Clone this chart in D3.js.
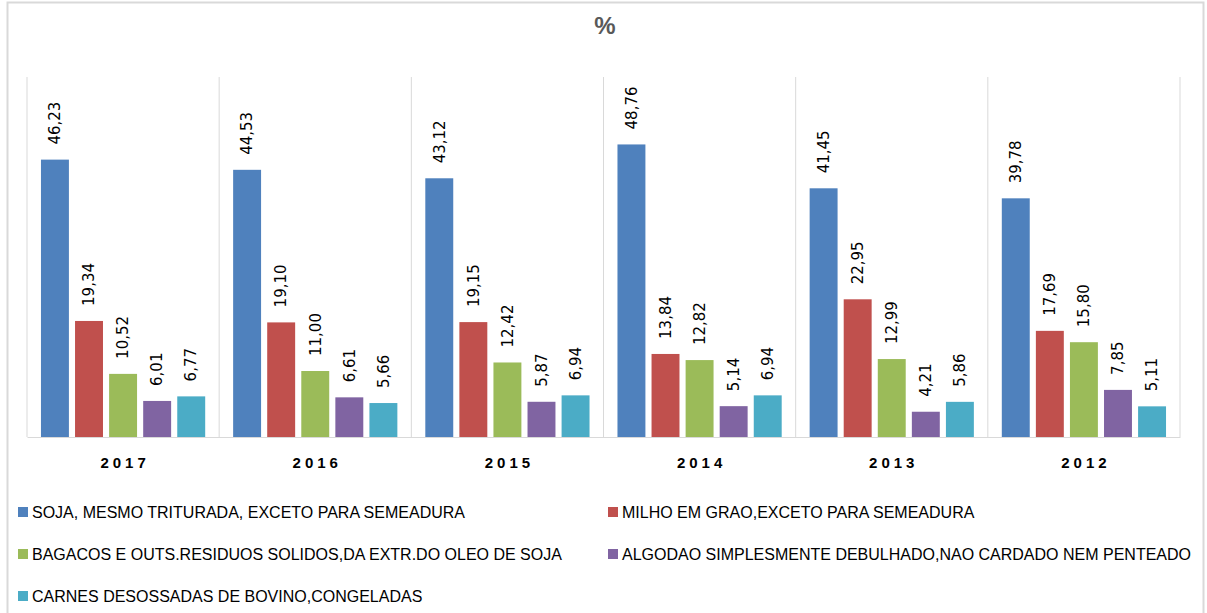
<!DOCTYPE html>
<html lang="en">
<head>
  <meta charset="UTF-8" />
  <title>%</title>
  <script src="https://cdn.jsdelivr.net/npm/d3@7"></script>
  <style>
    body {
      margin: 0;
      background-color: white;
      font-family: "Liberation Sans", Arial, sans-serif;
    }
  </style>
</head>
<body>
  <div id="chart"></div>

  <script>
    const years = ["2017", "2016", "2015", "2014", "2013", "2012"];
    const series = [
      "SOJA, MESMO TRITURADA, EXCETO PARA SEMEADURA",
      "MILHO EM GRAO,EXCETO PARA SEMEADURA",
      "BAGACOS E OUTS.RESIDUOS SOLIDOS,DA EXTR.DO OLEO DE SOJA",
      "ALGODAO SIMPLESMENTE DEBULHADO,NAO CARDADO NEM PENTEADO",
      "CARNES DESOSSADAS DE BOVINO,CONGELADAS"
    ];
    const soja = [46.23, 44.53, 43.12, 48.76, 41.45, 39.78];
    const milho = [19.34, 19.10, 19.15, 13.84, 22.95, 17.69];
    const bagacos = [10.52, 11.00, 12.42, 12.82, 12.99, 15.80];
    const algodao = [6.01, 6.61, 5.87, 5.14, 4.21, 7.85];
    const carnes = [6.77, 5.66, 6.94, 6.94, 5.86, 5.11];
    const values = [soja, milho, bagacos, algodao, carnes];

    const colors = ["#4f81bd", "#c0504d", "#9bbb59", "#8064a2", "#4bacc6"];

    const width = 1207;
    const height = 613;
    const plot = { left: 27, right: 1180, top: 77, bottom: 437 };

    const svg = d3.select("#chart")
      .append("svg")
      .attr("width", width)
      .attr("height", height);

    // chart frame
    svg.append("rect")
      .attr("x", 7.5)
      .attr("y", 2.5)
      .attr("width", 1196)
      .attr("height", 620)
      .attr("fill", "white")
      .attr("stroke", "#d9d9d9")
      .attr("stroke-width", 2);

    svg.append("text")
      .attr("x", 605)
      .attr("y", 34)
      .attr("text-anchor", "middle")
      .attr("font-size", 24)
      .attr("font-weight", "bold")
      .attr("fill", "#595959")
      .text("%");

    const x0 = d3.scaleBand()
      .domain(years)
      .range([plot.left, plot.right])
      .padding(0);

    const x1 = d3.scaleBand()
      .domain(d3.range(series.length))
      .range([0, x0.bandwidth()])
      .paddingInner(0.18)
      .paddingOuter(0.41);

    const y = d3.scaleLinear()
      .domain([0, 60])
      .range([plot.bottom, plot.top]);

    // category separators
    const bounds = years.map(d => x0(d)).concat([plot.right]);
    svg.append("g")
      .selectAll("line")
      .data(bounds)
      .enter()
      .append("line")
      .attr("x1", d => d)
      .attr("x2", d => d)
      .attr("y1", plot.top)
      .attr("y2", plot.bottom)
      .attr("stroke", "#d9d9d9")
      .attr("stroke-width", 1);

    const groups = svg.append("g")
      .selectAll("g")
      .data(years)
      .enter()
      .append("g")
      .attr("transform", d => `translate(${x0(d)},0)`);

    groups.selectAll("rect")
      .data((d, i) => values.map((s, j) => ({ s: j, v: s[i] })))
      .enter()
      .append("rect")
      .attr("x", d => x1(d.s))
      .attr("y", d => y(d.v))
      .attr("width", x1.bandwidth())
      .attr("height", d => y(0) - y(d.v))
      .attr("fill", d => colors[d.s]);

    groups.selectAll("text")
      .data((d, i) => values.map((s, j) => ({ s: j, v: s[i] })))
      .enter()
      .append("text")
      .attr("transform", d => `translate(${x1(d.s) + x1.bandwidth() / 2},${y(d.v) - 15}) rotate(-90)`)
      .attr("dy", "0.35em")
      .attr("font-family", "'DejaVu Sans', sans-serif")
      .attr("font-size", 15)
      .attr("fill", "#000")
      .text(d => d.v.toFixed(2).replace(".", ","));

    // x axis
    const xAxis = d3.axisBottom(x0).tickSize(0).tickPadding(20);
    const gx = svg.append("g")
      .attr("transform", `translate(0,${plot.bottom})`)
      .call(xAxis);
    gx.select(".domain").attr("stroke", "#d9d9d9");
    gx.selectAll("text")
      .attr("font-family", "'Liberation Sans', Arial, sans-serif")
      .attr("font-size", 15)
      .attr("font-weight", "bold")
      .attr("letter-spacing", "4px")
      .attr("dx", "2px")
      .attr("fill", "#000");

    // legend
    const legend = svg.append("g");
    const items = legend.selectAll("g")
      .data(series)
      .enter()
      .append("g")
      .attr("transform", (d, i) => `translate(${i % 2 === 0 ? 18 : 608},${512 + Math.floor(i / 2) * 42})`);

    items.append("rect")
      .attr("x", 0)
      .attr("y", -5)
      .attr("width", 10)
      .attr("height", 10)
      .attr("fill", (d, i) => colors[i]);

    items.append("text")
      .attr("x", 14)
      .attr("dy", "0.35em")
      .attr("font-size", 16)
      .attr("fill", "#000")
      .text(d => d);
  </script>
</body>
</html>
